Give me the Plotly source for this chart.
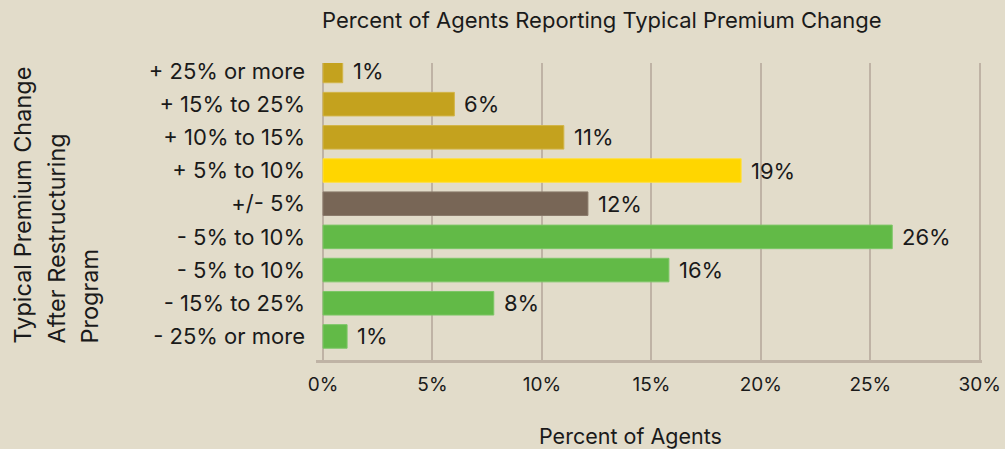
import plotly.graph_objects as go

categories = ["+ 25% or more", "+ 15% to 25%", "+ 10% to 15%", "+ 5% to 10%", "+/- 5%",
              "- 5% to 10%", "- 5% to 10%", "- 15% to 25%", "- 25% or more"]
values = [0.9, 6.0, 11.0, 19.1, 12.1, 26.0, 15.8, 7.8, 1.1]
labels = ["1%", "6%", "11%", "19%", "12%", "26%", "16%", "8%", "1%"]
colors = ["#C4A21E", "#C4A21E", "#C4A21E", "#FFD600", "#786656",
          "#62BA47", "#62BA47", "#62BA47", "#62BA47"]
edge_colors = ["#D2B548", "#D2B548", "#D2B548", "#FFDF40", "#8A7A6B",
               "#7CC666", "#7CC666", "#7CC666", "#7CC666"]
x_ticks = [0, 5, 10, 15, 20, 25, 30]
x_tick_labels = ["0%", "5%", "10%", "15%", "20%", "25%", "30%"]
y_title_lines = ["Typical Premium Change", "After Restructuring", "Program"]

BG = "#E2DCCA"
GRID = "#BFB3A5"
TXT = "#1A1A1A"
FONT = "Inter"

positions = list(range(len(categories)))

fig = go.Figure(go.Bar(
    y=positions, x=values, orientation="h",
    marker=dict(color=colors, line=dict(color=edge_colors, width=1)),
    width=0.71, customdata=categories,
    hovertemplate="%{customdata}: %{x}%<extra></extra>",
))

annotations = []
for pos, val, lab in zip(positions, values, labels):
    annotations.append(dict(
        x=val, y=pos, xref="x", yref="y", text=lab, showarrow=False,
        xanchor="left", yanchor="middle", xshift=8,
        font=dict(family=FONT, size=22, color=TXT),
    ))

annotations += [
    dict(text="Percent of Agents Reporting Typical Premium Change", xref="paper", yref="paper",
         x=(602 - 316) / 666, y=1 + (63 - 20) / 297, xanchor="center", yanchor="middle",
         showarrow=False, font=dict(family=FONT, size=22, color=TXT)),
    dict(text="Percent of Agents", xref="paper", yref="paper",
         x=(630 - 316) / 666, y=-(436 - 360) / 297, xanchor="center", yanchor="middle",
         showarrow=False, font=dict(family=FONT, size=21.5, color=TXT)),
]
for i, line in enumerate(y_title_lines):
    annotations.append(dict(
        text=line, xref="paper", yref="paper",
        x=((22 + 33.5 * i) - 316) / 666, y=(360 - 346) / 297,
        xanchor="center", yanchor="bottom", textangle=-90, showarrow=False,
        font=dict(family=FONT, size=23.5, color=TXT)))

fig.update_layout(
    width=1005, height=449, autosize=False,
    paper_bgcolor=BG, plot_bgcolor=BG,
    margin=dict(l=316, r=23, t=63, b=89, autoexpand=False),
    showlegend=False,
    font=dict(family=FONT, size=20, color=TXT),
    xaxis=dict(
        range=[-0.32, 30.1], tickvals=x_ticks, ticktext=x_tick_labels,
        showgrid=True, gridcolor=GRID, gridwidth=2,
        zeroline=True, zerolinecolor=GRID, zerolinewidth=2,
        showline=True, linecolor=GRID, linewidth=3,
        ticks="", ticklabelstandoff=5, automargin=False,
        tickfont=dict(family=FONT, size=19, color=TXT),
        fixedrange=True,
    ),
    yaxis=dict(
        tickmode="array", tickvals=positions, ticktext=categories,
        range=[8.71, -0.24], automargin=False,
        showgrid=False, showline=False, zeroline=False,
        ticks="", ticklabelstandoff=10,
        tickfont=dict(family=FONT, size=22, color=TXT),
        fixedrange=True,
    ),
    annotations=annotations,
)

fig.write_html("out.html",
               config={"displayModeBar": False, "responsive": False},
               post_script="document.body.style.margin='0';document.body.style.overflow='hidden';")
